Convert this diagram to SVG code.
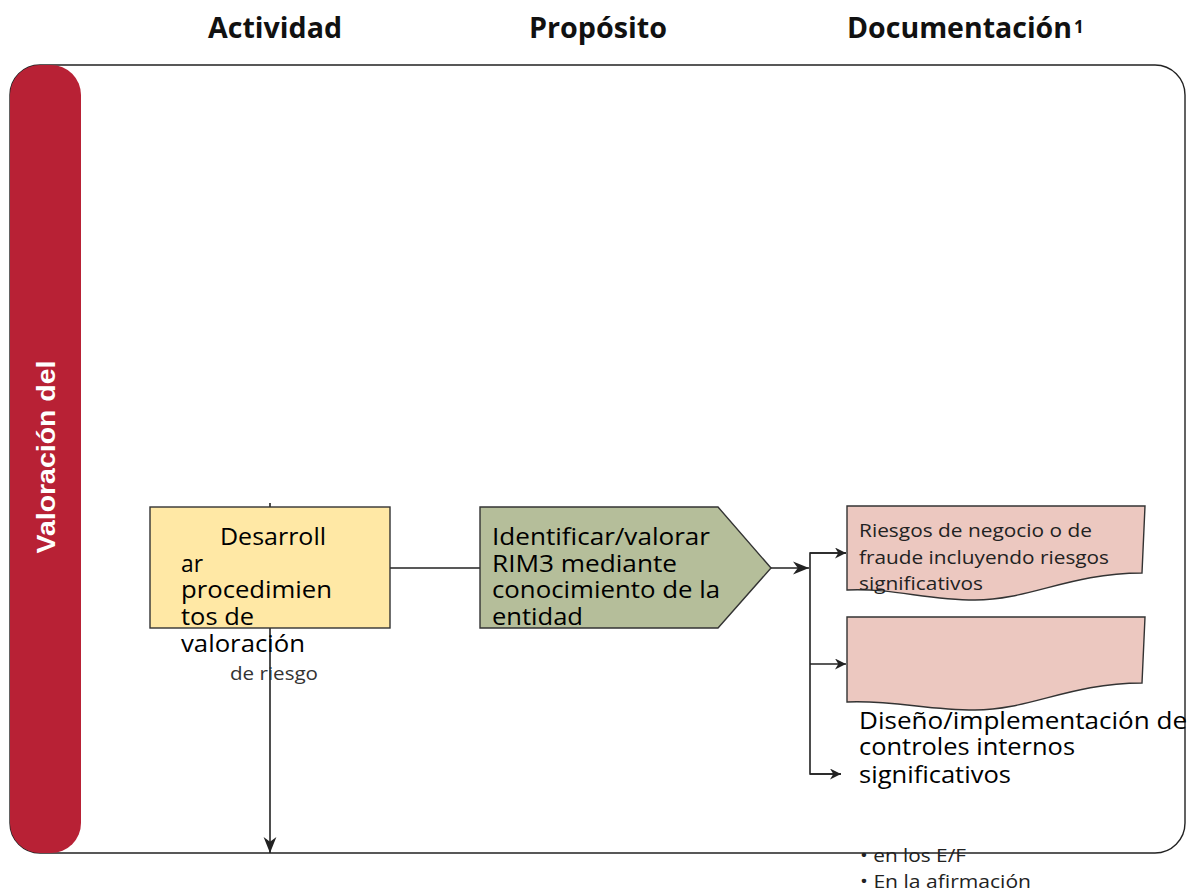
<svg xmlns="http://www.w3.org/2000/svg" width="1190" height="893" viewBox="0 0 1190 893">
<style>
.t{font-family:"Open Sans","Noto Sans","Liberation Sans",sans-serif;fill:#000}
.h{font-family:"Open Sans","Noto Sans","Liberation Sans",sans-serif;font-weight:bold;font-size:28px;fill:#111}
.ln{stroke:#222;stroke-width:1.6;fill:none}
</style>
<defs>
<marker id="ah" viewBox="0 0 10 10" refX="10" refY="5" markerWidth="11" markerHeight="11" markerUnits="userSpaceOnUse" orient="auto">
<path d="M0,0 L10,5 L0,10 L3,5 Z" fill="#222"/>
</marker>
<marker id="ahb" viewBox="0 0 10 10" refX="10" refY="5" markerWidth="16" markerHeight="16" markerUnits="userSpaceOnUse" orient="auto">
<path d="M0,1 L10,5 L0,9 L3,5 Z" fill="#222"/>
</marker>
</defs>
<rect width="1190" height="893" fill="#fff"/>
<g id="headers">
<text class="h" x="208" y="38" textLength="134" lengthAdjust="spacingAndGlyphs">Actividad</text>
<text class="h" x="529" y="38" textLength="138" lengthAdjust="spacingAndGlyphs">Propósito</text>
<text class="h" x="847" y="38" textLength="225" lengthAdjust="spacingAndGlyphs">Documentación</text>
<text class="h" x="1074" y="33" style="font-size:17px">1</text>
</g>
<g id="frame">
<rect x="10" y="65" width="1175" height="788" rx="30" ry="30" fill="none" stroke="#222" stroke-width="1.4"/>
</g>
<g id="lane">
<rect x="10" y="65" width="71" height="788" rx="30" ry="30" fill="#B82135"/>
<text transform="translate(55,457) rotate(-90)" text-anchor="middle" font-family="Liberation Sans,Arial,sans-serif" font-weight="bold" font-size="25" fill="#fff" textLength="193" lengthAdjust="spacingAndGlyphs">Valoración del</text>
</g>
<g id="connectors">
<line class="ln" x1="270" y1="503" x2="270" y2="853" marker-end="url(#ahb)"/>
<line class="ln" x1="390" y1="568" x2="480" y2="568"/>
<line class="ln" x1="771" y1="568" x2="809" y2="568" marker-end="url(#ahb)"/>
<polyline class="ln" points="846,553 810,553 810,774 841,774"/>
<line class="ln" x1="810" y1="553" x2="846" y2="553" marker-end="url(#ah)"/>
<line class="ln" x1="810" y1="664" x2="846" y2="664" marker-end="url(#ah)"/>
<line class="ln" x1="810" y1="774" x2="841" y2="774" marker-end="url(#ah)"/>
</g>
<g id="node-actividad">
<rect x="150" y="507" width="240" height="121" fill="#FFE8A5" stroke="#333" stroke-width="1.4"/>
<text class="t" font-size="24">
<tspan x="220" y="545" textLength="106" lengthAdjust="spacingAndGlyphs">Desarroll</tspan>
<tspan x="181" y="572" textLength="22" lengthAdjust="spacingAndGlyphs">ar</tspan>
<tspan x="181" y="598" textLength="151" lengthAdjust="spacingAndGlyphs">procedimien</tspan>
<tspan x="181" y="625" textLength="73" lengthAdjust="spacingAndGlyphs">tos de</tspan>
<tspan x="181" y="652" textLength="124" lengthAdjust="spacingAndGlyphs">valoración</tspan>
</text>
<text class="t" x="230" y="680" font-size="19" style="fill:#333" textLength="88" lengthAdjust="spacingAndGlyphs">de riesgo</text>
</g>
<g id="node-proposito">
<polygon points="480,507 718,507 771,568 718,628 480,628" fill="#B5BE9A" stroke="#333" stroke-width="1.4"/>
<text class="t" font-size="24">
<tspan x="492" y="545" textLength="218" lengthAdjust="spacingAndGlyphs">Identificar/valorar</tspan>
<tspan x="492" y="572" textLength="185" lengthAdjust="spacingAndGlyphs">RIM3 mediante</tspan>
<tspan x="492" y="598" textLength="228" lengthAdjust="spacingAndGlyphs">conocimiento de la</tspan>
<tspan x="492" y="625" textLength="91" lengthAdjust="spacingAndGlyphs">entidad</tspan>
</text>
</g>
<g id="node-doc1">
<path d="M847,506 L1145,506 L1142,573 C1070,573 1030,600 975,600 C925,600 895,588 847,590 Z" fill="#ECC8C0" stroke="#333" stroke-width="1.4"/>
<text class="t" font-size="19" style="fill:#222">
<tspan x="859" y="537" textLength="233" lengthAdjust="spacingAndGlyphs">Riesgos de negocio o de</tspan>
<tspan x="859" y="564" textLength="250" lengthAdjust="spacingAndGlyphs">fraude incluyendo riesgos</tspan>
<tspan x="859" y="590" textLength="124" lengthAdjust="spacingAndGlyphs">significativos</tspan>
</text>
</g>
<g id="node-doc2">
<path d="M847,617 L1145,617 L1142,683 C1070,683 1030,710 975,710 C925,710 895,700 847,702 Z" fill="#ECC8C0" stroke="#333" stroke-width="1.4"/>
<text class="t" font-size="24">
<tspan x="859" y="729" textLength="328" lengthAdjust="spacingAndGlyphs">Diseño/implementación  de</tspan>
<tspan x="859" y="755" textLength="216" lengthAdjust="spacingAndGlyphs">controles internos</tspan>
<tspan x="859" y="783" textLength="152" lengthAdjust="spacingAndGlyphs">significativos</tspan>
</text>
</g>
<g id="notes">
<text class="t" font-size="18" style="fill:#222">
<tspan x="860" y="862" textLength="106" lengthAdjust="spacingAndGlyphs">• en los E/F</tspan>
<tspan x="860" y="888" textLength="171" lengthAdjust="spacingAndGlyphs">• En la afirmación</tspan>
</text>
</g>
</svg>
